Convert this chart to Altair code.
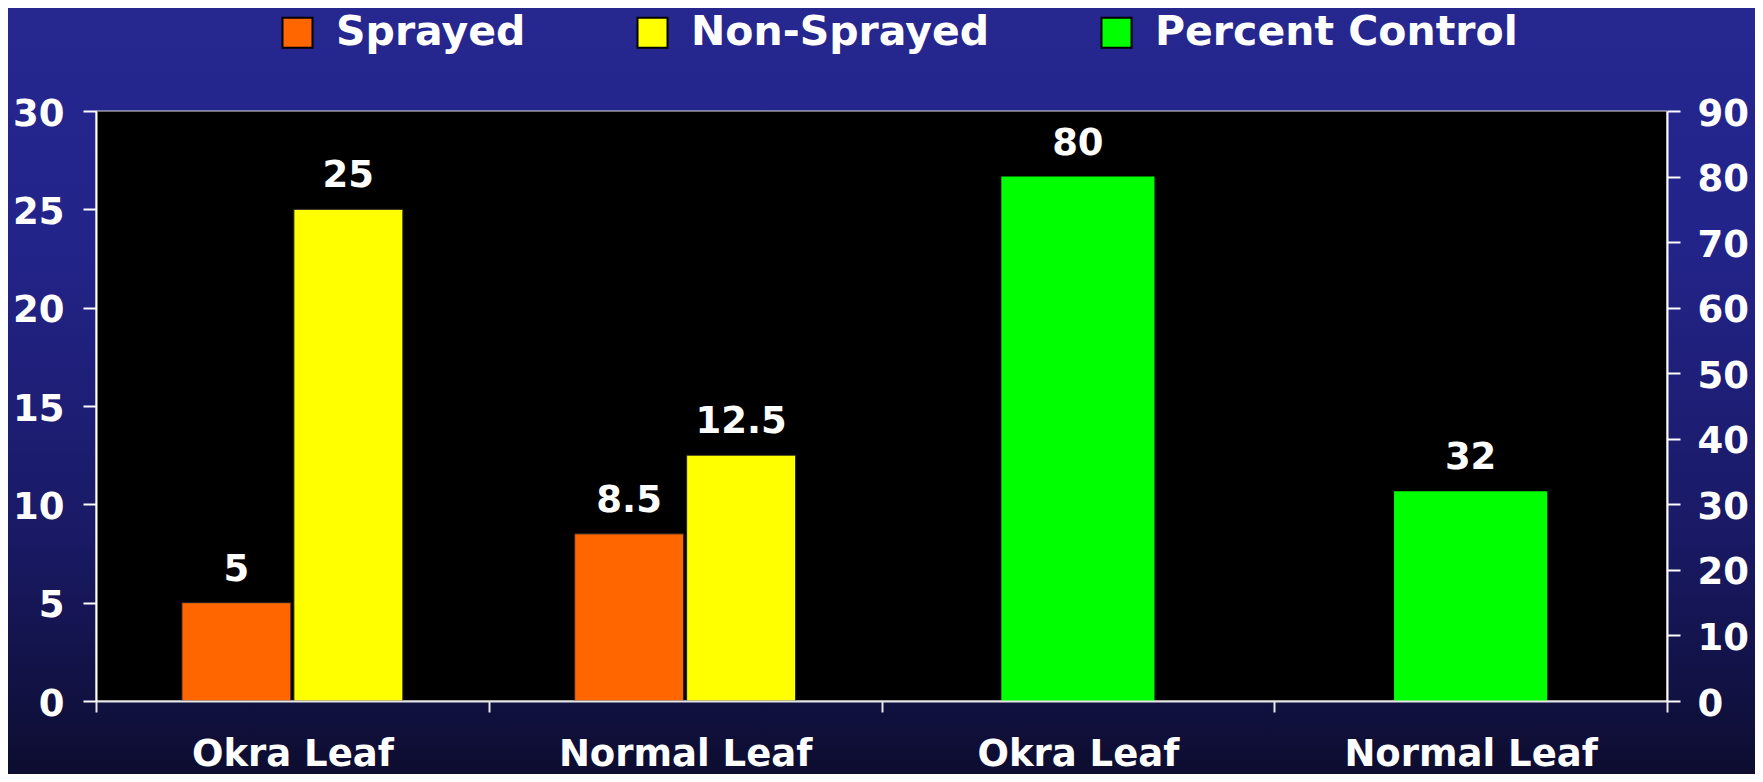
import json
import altair as alt
import pandas as pd

# ---------------- data ----------------
groups = ["g1", "g2", "g3", "g4"]
group_labels = ["Okra Leaf", "Normal Leaf", "Okra Leaf", "Normal Leaf"]

series_names = ["Sprayed", "Non-Sprayed", "Percent Control"]
series_colors = ["#FF6600", "#FFFF00", "#00FF00"]

pair_groups = ["g1", "g1", "g2", "g2"]
pair_series = ["Sprayed", "Non-Sprayed", "Sprayed", "Non-Sprayed"]
pair_values = [5, 25, 8.5, 12.5]
pair_text = ["5", "25", "8.5", "12.5"]

pct_groups = ["g3", "g4"]
pct_series = ["Percent Control", "Percent Control"]
pct_values = [80, 32]
pct_text = ["80", "32"]

left_ticks = [0, 5, 10, 15, 20, 25, 30]
right_ticks = [0, 10, 20, 30, 40, 50, 60, 70, 80, 90]

df_pair = pd.DataFrame({"group": pair_groups, "series": pair_series,
                        "value": pair_values, "label": pair_text})
df_pct = pd.DataFrame({"group": pct_groups, "series": pct_series,
                       "pct": pct_values, "label": pct_text})

# ---------------- layout ----------------
W, H = 1571, 590
PAD = {"left": 88, "top": 103, "right": 88, "bottom": 73}
FONT = "DejaVu Sans"
WHITE = "#FFFFFF"

label_expr = "{}[indexof({}, datum.value)]".format(json.dumps(group_labels), json.dumps(groups))

x_enc = alt.X(
    "group:N",
    scale=alt.Scale(domain=groups, paddingInner=0, paddingOuter=0),
    axis=alt.Axis(
        title=None, labelExpr=label_expr, labelAngle=0, tickBand="extent",
        domainColor="#E6E6E6", domainWidth=2, tickColor="#E6E6E6", tickWidth=2,
        tickSize=11, labelPadding=24, labelFont=FONT, labelFontSize=37,
        labelFontWeight="bold", labelColor=WHITE, grid=False, zindex=1,
        labelLimit=600,
    ),
)

color_enc = alt.Color(
    "series:N",
    scale=alt.Scale(domain=series_names, range=series_colors),
    legend=alt.Legend(
        title=None, orient="none", legendX=181, legendY=-99,
        direction="horizontal", symbolType="square", symbolSize=900,
        symbolStrokeColor="black", symbolStrokeWidth=2, symbolOpacity=1,
        labelFont=FONT, labelFontSize=41, labelFontWeight="bold",
        labelColor=WHITE, labelLimit=700, labelOffset=18, columnPadding=106,
        padding=0,
    ),
)

y_left = alt.Y(
    "value:Q",
    scale=alt.Scale(domain=[0, 30], nice=False),
    axis=alt.Axis(
        orient="left", title=None, values=left_ticks, grid=False,
        domainColor=WHITE, domainWidth=2, tickColor=WHITE, tickWidth=2,
        tickSize=13, labelPadding=19, labelOffset=3, labelFont=FONT,
        labelFontSize=37, labelFontWeight="bold", labelColor=WHITE,
        labelOverlap=False, zindex=1,
    ),
)

y_right = alt.Y(
    "pct:Q",
    scale=alt.Scale(domain=[0, 90], nice=False),
    axis=alt.Axis(
        orient="right", title=None, values=right_ticks, grid=False,
        domainColor=WHITE, domainWidth=2, tickColor=WHITE, tickWidth=2,
        tickSize=13, labelPadding=17, labelOffset=3, labelFont=FONT,
        labelFontSize=37, labelFontWeight="bold", labelColor=WHITE,
        labelOverlap=False, zindex=1,
    ),
)

one = alt.Data(values=[{}])

background = alt.Chart(one).mark_rect(
    color=alt.Gradient(
        gradient="linear", x1=0, y1=0, x2=0, y2=1,
        stops=[
            alt.GradientStop(color="#26278F", offset=0),
            alt.GradientStop(color="#23248A", offset=0.3),
            alt.GradientStop(color="#191964", offset=0.7),
            alt.GradientStop(color="#0D0D30", offset=1),
        ],
    )
).encode(
    x=alt.value(-PAD["left"]), x2=alt.value(W + PAD["right"]),
    y=alt.value(-PAD["top"]), y2=alt.value(H + PAD["bottom"]),
)

plot_bg = alt.Chart(one).mark_rect(
    color="black", stroke="#DDDDDD", strokeWidth=1
).encode(
    x=alt.value(0), x2=alt.value(W), y=alt.value(0), y2=alt.value(H),
)

xoff = alt.XOffset(
    "series:N",
    scale=alt.Scale(domain=["Sprayed", "Non-Sprayed"], paddingInner=0.0268, paddingOuter=0.767),
)

bars_pair = alt.Chart(df_pair).mark_bar(stroke="#222222", strokeWidth=1).encode(
    x=x_enc, xOffset=xoff, y=y_left, color=color_enc,
)
text_pair = alt.Chart(df_pair).mark_text(
    font=FONT, fontSize=37, fontWeight="bold", color=WHITE,
    baseline="alphabetic", dy=-22,
).encode(x=x_enc, xOffset=xoff, y=y_left, text="label:N")

bars_pct = alt.Chart(df_pct).mark_bar(width=alt.RelativeBandSize(0.39)).encode(
    x=x_enc, y=y_right, color=color_enc,
)
text_pct = alt.Chart(df_pct).mark_text(
    font=FONT, fontSize=37, fontWeight="bold", color=WHITE,
    baseline="alphabetic", dy=-22,
).encode(x=x_enc, y=y_right, text="label:N")

left_layer = alt.layer(bars_pair, text_pair)
right_layer = alt.layer(bars_pct, text_pct)

chart = alt.layer(background, plot_bg, left_layer, right_layer).resolve_scale(
    y="independent"
).properties(
    width=W, height=H,
    autosize=alt.AutoSizeParams(type="none"),
    padding=PAD,
    background="#1A1A66",
).configure_view(stroke=None)

chart.save("out.html", embed_options={"renderer": "svg", "actions": False})
